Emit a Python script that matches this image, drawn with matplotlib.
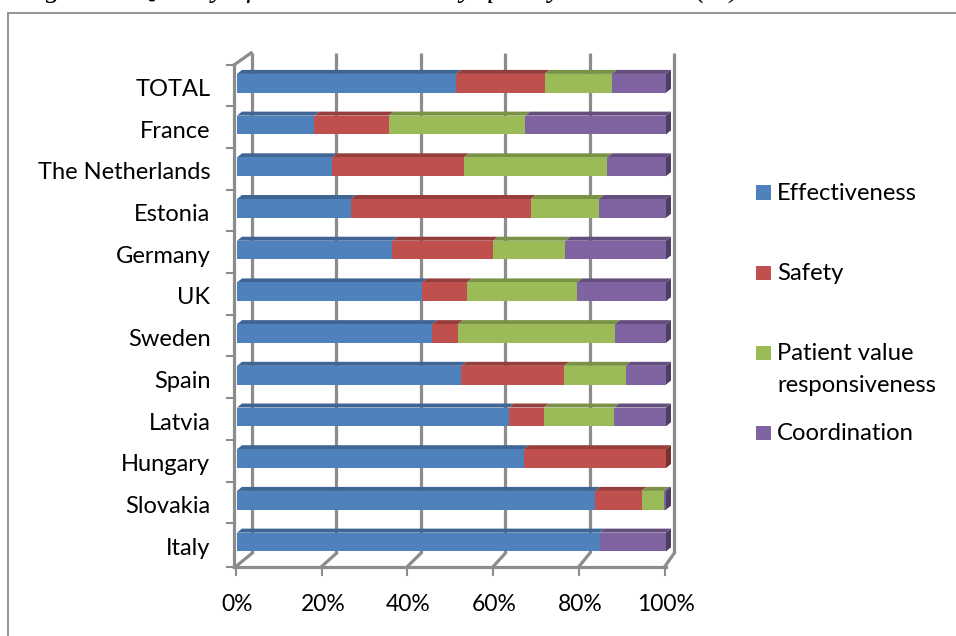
import numpy as np
import matplotlib.pyplot as plt
from matplotlib.patches import Polygon, Rectangle
from matplotlib.colors import to_rgb

# datos (porcentajes por pais)
paises = ["Italy", "Slovakia", "Hungary", "Latvia", "Spain", "Sweden", "UK",
          "Germany", "Estonia", "The Netherlands", "France", "TOTAL"]
effectiveness = [84.5, 83.5, 66.8, 63.4, 52.3, 45.5, 43.2, 36.2, 26.5, 22.2, 18.0, 51.1]
safety        = [0.0, 10.8, 33.2, 8.1, 24.0, 6.0, 10.4, 23.5, 42.0, 30.7, 17.4, 20.6]
patient_value = [0.0, 5.2, 0.0, 16.4, 14.3, 36.6, 25.7, 16.8, 15.9, 33.4, 31.8, 15.6]
coordination  = [15.5, 0.5, 0.0, 12.1, 9.4, 11.9, 20.7, 23.5, 15.6, 13.7, 32.8, 12.7]
series_names = ["Effectiveness", "Safety", "Patient value\nresponsiveness", "Coordination"]
colores = ["#4f81bd", "#c0504d", "#9bbb59", "#8064a2"]
xticks = [0, 20, 40, 60, 80, 100]

plt.rcParams['font.family'] = ['Lato', 'DejaVu Sans']

W, H = 956, 636
fig = plt.figure(figsize=(W / 100, H / 100), dpi=100)

# ejes colocados en pixeles: x 0..100 -> 237..666 px, fila i -> 542 - 41.7*i px
px_x = 4.29
px_y = 41.7
xlim = (-2, 104)
ylim = (-0.75, 11.85)
left = (237 + xlim[0] * px_x) / W
width = (xlim[1] - xlim[0]) * px_x / W
bottom = 1 - (542 - ylim[0] * px_y) / H
height = (ylim[1] - ylim[0]) * px_y / H
ax = fig.add_axes([left, bottom, width, height])
ax.set_xlim(*xlim)
ax.set_ylim(*ylim)
for s in ax.spines.values():
    s.set_visible(False)

gris = "#8c8c8c"
y_pos = np.arange(len(paises))

# pared del fondo con lineas de la cuadricula (un poco en perspectiva)
back_top = 11.73
back_floor = -0.27
front_floor = -0.59
for v in xticks:
    xb = 3.5 + 0.984 * v
    ax.plot([xb, xb], [back_floor, back_top], color=gris, lw=2.3, zorder=1,
            solid_capstyle='butt', clip_on=False)
    ax.plot([v - 0.3, xb], [front_floor, back_floor], color=gris, lw=2.3, zorder=1,
            clip_on=False)
    ax.plot([v - 0.3, v - 0.3], [front_floor, front_floor - 0.2], color=gris, lw=1.5,
            zorder=1, clip_on=False)

# piso y pared izquierda
ax.plot([-0.7, 100], [front_floor, front_floor], color=gris, lw=2.3, zorder=1, clip_on=False)
ax.plot([-0.7, -0.7], [front_floor, 11.44], color=gris, lw=2.3, zorder=1, clip_on=False)
ax.plot([-0.7, 3.3], [11.44, back_top], color=gris, lw=2.3, zorder=1, clip_on=False)
for t in list(np.arange(12) + 0.45) + [front_floor]:
    ax.plot([-2.4, -0.7], [t, t], color=gris, lw=1.5, zorder=1, clip_on=False)

# barras apiladas con cara superior y lateral
def oscurecer(c, f):
    r, g, b = to_rgb(c)
    return (r * f, g * f, b * f)

h = 0.45
dx = 5 / px_x
dy = 4 / px_y
datos = [effectiveness, safety, patient_value, coordination]
izq = np.zeros(len(paises))
for k, serie in enumerate(datos):
    vals = np.array(serie)
    ax.barh(y_pos, vals, left=izq, height=h, color=colores[k], zorder=3,
            label=series_names[k])
    for i in range(len(paises)):
        if vals[i] <= 0:
            continue
        l, r = izq[i], izq[i] + vals[i]
        yt = y_pos[i] + h / 2
        top = Polygon([(l, yt), (r, yt), (r + dx, yt + dy), (l + dx, yt + dy)],
                      closed=True, facecolor=oscurecer(colores[k], 0.78),
                      edgecolor='none', zorder=2.5)
        ax.add_patch(top)
    izq = izq + vals

# cara lateral derecha con el color del ultimo segmento
for i in range(len(paises)):
    ultimo = max(k for k in range(4) if datos[k][i] > 0)
    yb = y_pos[i] - h / 2
    yt = y_pos[i] + h / 2
    side = Polygon([(100, yb), (100, yt), (100 + dx, yt + dy), (100 + dx, yb + dy)],
                   closed=True, facecolor=oscurecer(colores[ultimo], 0.62),
                   edgecolor='none', zorder=2.5, clip_on=False)
    ax.add_patch(side)

# las etiquetas van un poco mas abajo que el centro de la barra
ax.set_yticks(y_pos - 0.1)
ax.set_yticklabels(paises, fontsize=17)
ax.set_xticks(xticks)
ax.set_xticklabels([f"{v}%" for v in xticks], fontsize=16.5)
ax.tick_params(axis='both', length=0)
ax.tick_params(axis='y', pad=13)
ax.tick_params(axis='x', pad=15)

# leyenda a mano
ley_y = [200, 280, 360, 440]
for k in range(4):
    fig.patches.append(Rectangle((756 / W, 1 - ley_y[k] / H), 15 / W, 14.5 / H,
                                 transform=fig.transFigure, facecolor=colores[k],
                                 edgecolor='none'))
fs_ley = 17.2
fig.text(777 / W, 1 - 200 / H, "Effectiveness", fontsize=fs_ley, va='baseline')
fig.text(777 / W, 1 - 280 / H, "Safety", fontsize=fs_ley, va='baseline')
fig.text(777 / W, 1 - 360 / H, "Patient value", fontsize=fs_ley, va='baseline')
fig.text(777 / W, 1 - 392 / H, "responsiveness", fontsize=fs_ley, va='baseline')
fig.text(777 / W, 1 - 440 / H, "Coordination", fontsize=fs_ley, va='baseline')

# marco del grafico y titulo cortado arriba (solo se ven las colas de las letras)
fig.patches.append(Rectangle((8 / W, -0.05), 1.0, 1 - 13 / H + 0.05,
                             transform=fig.transFigure, facecolor='none',
                             edgecolor='#8a8a8a', lw=1.3))
fig.text(20 / W, 1 + 2 / H, "Figure 4: Quality of care indicators by quality dimension (%)",
         family='Liberation Serif', style='italic', fontsize=21, va='baseline')

fig.savefig("out.png", dpi=100)
